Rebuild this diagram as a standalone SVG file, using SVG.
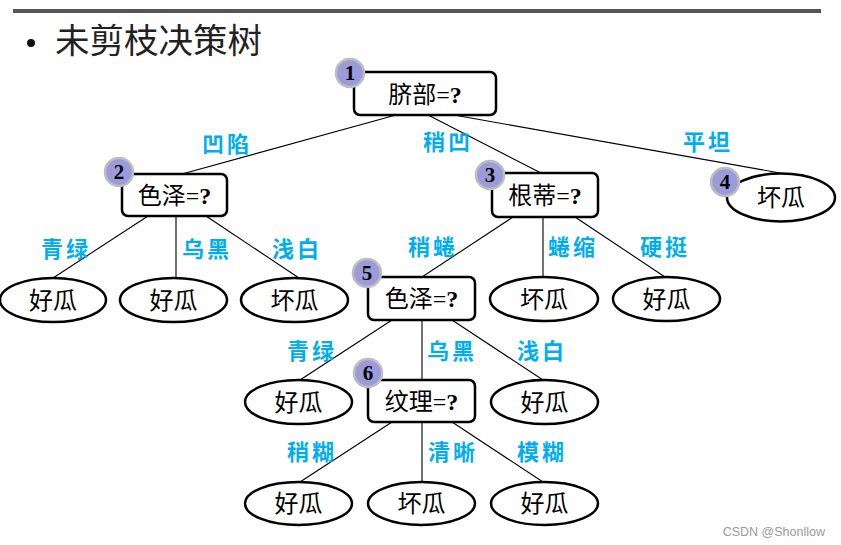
<svg xmlns="http://www.w3.org/2000/svg" width="841" height="545" viewBox="0 0 841 545">
<style>
.box{fill:#fff;stroke:#000;stroke-width:2.5}
.leaf{fill:#fff;stroke:#000;stroke-width:2.5}
.badge{fill:#9b9bdb;stroke:#bdbdbd;stroke-width:2.5}
.num{font-family:"Liberation Serif",serif;font-weight:bold;font-size:21px;fill:#000;text-anchor:middle}
.t{font-family:"Liberation Serif","Noto Sans CJK SC",sans-serif;font-size:24px;fill:#000;text-anchor:middle}
.lbl{font-family:"Noto Sans CJK SC",sans-serif;font-weight:bold;font-size:22px;fill:#00aeef;letter-spacing:3px}
.e{stroke:#000;stroke-width:1.1;fill:none}
</style>
<rect width="841" height="545" fill="#fff"/>
<rect x="13" y="9" width="808" height="4" fill="#555"/>
<circle cx="31" cy="43" r="4" fill="#111"/>
<text x="55" y="53" font-family="Noto Sans CJK SC,sans-serif" font-size="34.5" fill="#222">未剪枝决策树</text>

<g id="connectors">
<line class="e" x1="396" y1="115" x2="182" y2="174"/>
<line class="e" x1="428" y1="115" x2="541" y2="173"/>
<line class="e" x1="454" y1="115" x2="780" y2="173"/>
<line class="e" x1="148" y1="216" x2="53" y2="278"/>
<line class="e" x1="176" y1="216" x2="176" y2="278"/>
<line class="e" x1="206" y1="216" x2="299" y2="278"/>
<line class="e" x1="513" y1="217" x2="422" y2="277"/>
<line class="e" x1="543" y1="217" x2="543" y2="277"/>
<line class="e" x1="575" y1="217" x2="665" y2="277"/>
<line class="e" x1="392" y1="320" x2="300" y2="380"/>
<line class="e" x1="422" y1="320" x2="422" y2="380"/>
<line class="e" x1="452" y1="320" x2="543" y2="380"/>
<line class="e" x1="392" y1="422" x2="300" y2="482"/>
<line class="e" x1="422" y1="422" x2="422" y2="482"/>
<line class="e" x1="452" y1="422" x2="543" y2="482"/>
</g>

<g id="labels">
<text class="lbl" x="202" y="152">凹陷</text>
<text class="lbl" x="423" y="150">稍凹</text>
<text class="lbl" x="683" y="150">平坦</text>
<text class="lbl" x="41" y="257">青绿</text>
<text class="lbl" x="182" y="257">乌黑</text>
<text class="lbl" x="272" y="257">浅白</text>
<text class="lbl" x="408" y="255">稍蜷</text>
<text class="lbl" x="548" y="255">蜷缩</text>
<text class="lbl" x="640" y="255">硬挺</text>
<text class="lbl" x="287" y="359">青绿</text>
<text class="lbl" x="427" y="359">乌黑</text>
<text class="lbl" x="517" y="359">浅白</text>
<text class="lbl" x="287" y="460">稍糊</text>
<text class="lbl" x="428" y="460">清晰</text>
<text class="lbl" x="517" y="460">模糊</text>
</g>

<g id="n1">
<rect class="box" x="354" y="72" width="142" height="43" rx="6"/>
<text class="t" x="425" y="103">脐部=<tspan font-weight="bold">?</tspan></text>
<circle class="badge" cx="350" cy="73" r="14"/>
<text class="num" x="350" y="80">1</text>
</g>
<g id="n2">
<rect class="box" x="122" y="174" width="105" height="42" rx="6"/>
<text class="t" x="174.5" y="204">色泽=<tspan font-weight="bold">?</tspan></text>
<circle class="badge" cx="119" cy="172" r="14"/>
<text class="num" x="119" y="179">2</text>
</g>
<g id="n3">
<rect class="box" x="492" y="173" width="106" height="44" rx="6"/>
<text class="t" x="545" y="204">根蒂=<tspan font-weight="bold">?</tspan></text>
<circle class="badge" cx="490" cy="175" r="14"/>
<text class="num" x="490" y="182">3</text>
</g>
<g id="n4">
<ellipse class="leaf" cx="781" cy="197.5" rx="54" ry="24"/>
<text class="t" x="781" y="206">坏瓜</text>
<circle class="badge" cx="725" cy="182" r="14"/>
<text class="num" x="725" y="189">4</text>
</g>
<g id="n5">
<rect class="box" x="368" y="277" width="107" height="43" rx="6"/>
<text class="t" x="421.5" y="307">色泽=<tspan font-weight="bold">?</tspan></text>
<circle class="badge" cx="367" cy="273" r="14"/>
<text class="num" x="367" y="280">5</text>
</g>
<g id="n6">
<rect class="box" x="368" y="380" width="107" height="42" rx="6"/>
<text class="t" x="421.5" y="410">纹理=<tspan font-weight="bold">?</tspan></text>
<circle class="badge" cx="368" cy="373" r="14"/>
<text class="num" x="368" y="380">6</text>
</g>
<g id="leaf_qinglv1"><ellipse class="leaf" cx="53" cy="300" rx="53" ry="22"/><text class="t" x="53" y="309">好瓜</text></g>
<g id="leaf_wuhei1"><ellipse class="leaf" cx="173.5" cy="300" rx="53.5" ry="22"/><text class="t" x="173.5" y="309">好瓜</text></g>
<g id="leaf_qianbai1"><ellipse class="leaf" cx="294.5" cy="300" rx="53.5" ry="22"/><text class="t" x="294.5" y="309">坏瓜</text></g>
<g id="leaf_quansuo"><ellipse class="leaf" cx="544" cy="299" rx="54" ry="22"/><text class="t" x="544" y="308">坏瓜</text></g>
<g id="leaf_yingting"><ellipse class="leaf" cx="666.5" cy="299" rx="53.5" ry="22"/><text class="t" x="666.5" y="308">好瓜</text></g>
<g id="leaf_qinglv2"><ellipse class="leaf" cx="298.5" cy="402" rx="53.5" ry="22"/><text class="t" x="298.5" y="411">好瓜</text></g>
<g id="leaf_qianbai2"><ellipse class="leaf" cx="544.5" cy="402" rx="53.5" ry="22"/><text class="t" x="544.5" y="411">好瓜</text></g>
<g id="leaf_shaohu"><ellipse class="leaf" cx="298.5" cy="503.5" rx="53.5" ry="21.5"/><text class="t" x="298.5" y="512">好瓜</text></g>
<g id="leaf_qingxi"><ellipse class="leaf" cx="421.5" cy="503.5" rx="53.5" ry="21.5"/><text class="t" x="421.5" y="512">坏瓜</text></g>
<g id="leaf_mohu"><ellipse class="leaf" cx="544.5" cy="503.5" rx="53.5" ry="21.5"/><text class="t" x="544.5" y="512">好瓜</text></g>
<text x="825" y="536" text-anchor="end" font-family="Liberation Sans,sans-serif" font-size="12.5" fill="#9a9a9a">CSDN @Shonllow</text>
</svg>
